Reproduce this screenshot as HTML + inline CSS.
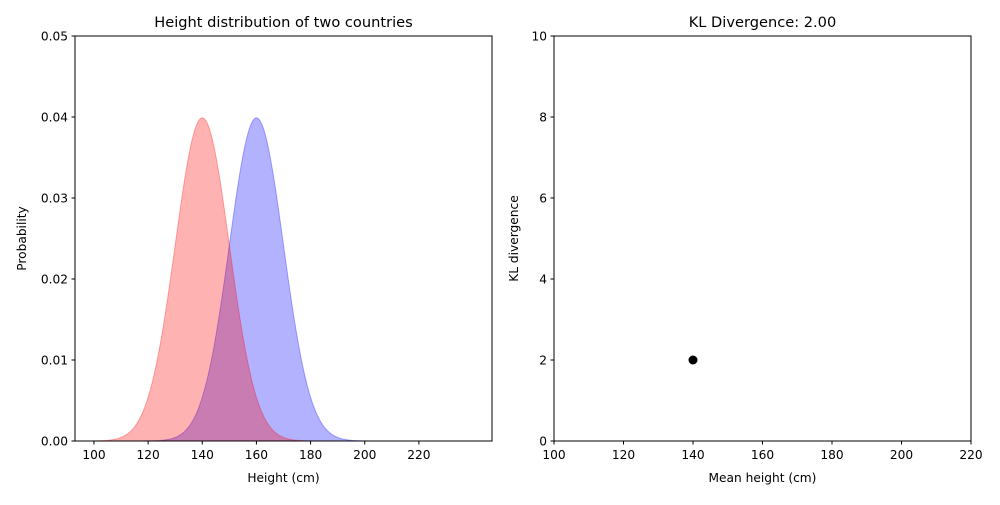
<!DOCTYPE html>
<html><head><meta charset="utf-8"><style>
body{margin:0;background:#fff;}
svg text{font-family:"DejaVu Sans","Liberation Sans",sans-serif;fill:#000;}
</style></head><body>
<svg id="c" width="1000" height="500" xmlns="http://www.w3.org/2000/svg"></svg>
<script>
const means=[140,160];
const sds=[10,10];
const colors=['rgb(255,0,0)','rgb(0,0,255)'];
const xRange=[100,240];
const leftXTicks=[100,120,140,160,180,200,220];
const leftYTicks=[0,0.01,0.02,0.03,0.04,0.05];
const rightXTicks=[100,120,140,160,180,200,220];
const rightYTicks=[0,2,4,6,8,10];
const pointX=[140];
const pointY=[2];
const NS='http://www.w3.org/2000/svg';
const svg=document.getElementById('c');
function mk(t,a,p){const e=document.createElementNS(NS,t);for(const k in a)e.setAttribute(k,a[k]);(p||svg).appendChild(e);return e;}
const L={x0:75,x1:492,y0:441,y1:36};
const lx=v=>L.x0+(v-93)/(247-93)*(L.x1-L.x0);
const ly=v=>L.y0-(v/0.05)*(L.y0-L.y1);
const R={x0:554,x1:971,y0:441,y1:36};
const rx=v=>R.x0+(v-100)/120*(R.x1-R.x0);
const ry=v=>R.y0-(v/10)*(R.y0-R.y1);
const gL=mk('g',{});
[1,0].forEach(i=>{
  const m=means[i],s=sds[i];let d='M'+lx(xRange[0])+','+ly(0);
  for(let k=0;k<=400;k++){const x=xRange[0]+(xRange[1]-xRange[0])*k/400;
    const y=Math.exp(-0.5*((x-m)/s)**2)/(s*Math.sqrt(2*Math.PI));d+=' L'+lx(x).toFixed(2)+','+ly(y).toFixed(2);}
  d+=' L'+lx(xRange[1])+','+ly(0)+' Z';
  const p=mk('path',{d:d,fill:colors[i],'fill-opacity':0.3,stroke:colors[i],'stroke-opacity':0.3,'stroke-width':1},gL);
  
  
});
function axes(A,xt,yt,fx,fy,yfmt,xlab,ylab,title,pre,ylx){
  const g=mk('g',{});
  mk('rect',{x:A.x0,y:A.y1,width:A.x1-A.x0,height:A.y0-A.y1,fill:'none',stroke:'#000','stroke-width':1},g);
  xt.forEach(v=>{const x=fx(v);mk('line',{x1:x,x2:x,y1:A.y0,y2:A.y0+3.5,stroke:'#000'},g);
    const t=mk('text',{x:x,y:A.y0+18,'text-anchor':'middle','font-size':'12.2'},g);t.textContent=v;});
  yt.forEach(v=>{const y=fy(v);mk('line',{x1:A.x0-3.5,x2:A.x0,y1:y,y2:y,stroke:'#000'},g);
    const t=mk('text',{x:A.x0-7,y:y+4.5,'text-anchor':'end','font-size':'12.2'},g);t.textContent=yfmt(v);});
  let t=mk('text',{x:(A.x0+A.x1)/2,y:A.y0+41,'text-anchor':'middle','font-size':'12.2'},g);t.textContent=xlab;
  
  const cy=(A.y0+A.y1)/2;
  t=mk('text',{x:ylx,y:cy,'text-anchor':'middle','font-size':'12.2',transform:`rotate(-90 ${ylx} ${cy})`},g);t.textContent=ylab;
  
  t=mk('text',{x:(A.x0+A.x1)/2,y:A.y1-9,'text-anchor':'middle','font-size':'14.6'},g);t.textContent=title;
  
}
axes(L,leftXTicks,leftYTicks,lx,ly,v=>v.toFixed(2),'Height (cm)','Probability','Height distribution of two countries','left',26);
axes(R,rightXTicks,rightYTicks,rx,ry,v=>v,'Mean height (cm)','KL divergence','KL Divergence: 2.00','right',518);
pointX.forEach((x,i)=>{const c=mk('circle',{cx:rx(x),cy:ry(pointY[i]),r:4.5,fill:'#000'});
  });
</script>
</body></html>
